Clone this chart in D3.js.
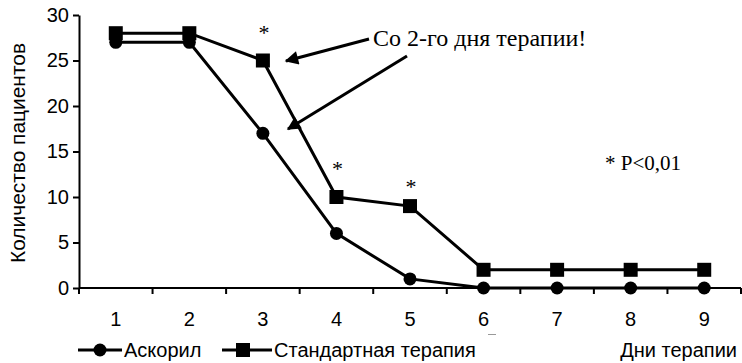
<!DOCTYPE html>
<html><head><meta charset="utf-8">
<script src="https://cdn.jsdelivr.net/npm/d3@7"></script>
<style>body{margin:0;background:#fff}svg{display:block}</style>
</head><body>
<svg id="c" width="742" height="363"></svg>
<script>
const days = ["1","2","3","4","5","6","7","8","9"];
const ascoril = [27,27,17,6,1,0,0,0,0];
const standard = [28,28,25,10,9,2,2,2,2];
const yTicks = [0,5,10,15,20,25,30];
const seriesNames = ["Аскорил","Стандартная терапия"];
const starDays = ["3","4","5"];

(function(){
const svg = d3.select("#c");
const mLeft = 79, mRight = 741, mTop = 15, mBottom = 288;
const sans = "Liberation Sans, Arial, sans-serif";
const serif = "Liberation Serif, Times New Roman, serif";
const x = d3.scaleBand().domain(days).range([mLeft, mRight]);
const y = d3.scaleLinear().domain([0,30]).range([mBottom, mTop]);
const cx = d => x(d) + x.bandwidth()/2;

const yAx = svg.append("g").attr("transform",`translate(${mLeft},0)`)
  .call(d3.axisLeft(y).tickValues(yTicks).tickSize(6).tickSizeOuter(0).tickPadding(4));
const xAx = svg.append("g").attr("transform",`translate(0,${mBottom})`)
  .call(d3.axisBottom(x).tickSize(0).tickPadding(24));
xAx.selectAll(".tick line").remove();
xAx.selectAll(".bt").data(d3.range(days.length+1)).enter().append("line")
  .attr("x1", i => mLeft + i*x.bandwidth()).attr("x2", i => mLeft + i*x.bandwidth())
  .attr("y1",0).attr("y2",6).attr("stroke","#000").attr("stroke-width",2);
[yAx,xAx].forEach(a=>{
  a.select(".domain").attr("stroke","#000").attr("stroke-width",2);
  a.selectAll(".tick line").attr("stroke","#000").attr("stroke-width",2);
  a.selectAll("text").attr("font-family",sans).attr("font-size",20).attr("fill","#000");
});
xAx.select(".domain").attr("d",`M${mLeft},0H${mRight}`);

svg.append("text").attr("transform","translate(25,153) rotate(-90)")
  .attr("text-anchor","middle").attr("font-family",sans)
  .attr("font-size",20).attr("textLength",220).attr("lengthAdjust","spacingAndGlyphs")
  .text("Количество пациентов");

const line = d3.line().x((d,i)=>cx(days[i])).y(d=>y(d));
svg.append("path").datum(ascoril).attr("d",line).attr("fill","none").attr("stroke","#000").attr("stroke-width",3);
svg.append("path").datum(standard).attr("d",line).attr("fill","none").attr("stroke","#000").attr("stroke-width",3);
svg.selectAll(".c").data(ascoril).enter().append("circle")
  .attr("cx",(d,i)=>cx(days[i])).attr("cy",d=>y(d)).attr("r",6.5).attr("fill","#000");
svg.selectAll(".s").data(standard).enter().append("rect")
  .attr("x",(d,i)=>cx(days[i])-7).attr("y",d=>y(d)-7).attr("width",14).attr("height",14).attr("fill","#000");

const starY = {"3":40,"4":176,"5":194};
starDays.forEach(d=>{
  svg.append("text").attr("x",cx(d)+1).attr("y",starY[d]).attr("text-anchor","middle")
    .attr("font-family",serif).attr("font-size",22).text("*");
});
svg.append("text").attr("x",605).attr("y",170).attr("font-family",serif)
  .attr("font-size",21).text("* P<0,01");

svg.append("defs").append("marker").attr("id","ah").attr("viewBox","0 0 10 10").attr("refX",9).attr("refY",5)
  .attr("markerWidth",5).attr("markerHeight",4.5).attr("orient","auto").attr("markerUnits","strokeWidth")
  .append("path").attr("d","M0,0L10,5L0,10Z").attr("fill","#000");
svg.append("text").attr("x",373).attr("y",46).attr("font-family",serif)
  .attr("font-size",24).text("Со 2-го дня терапии!");
svg.append("line").attr("x1",369).attr("y1",39).attr("x2",286).attr("y2",61)
  .attr("stroke","#000").attr("stroke-width",3).attr("marker-end","url(#ah)");
svg.append("line").attr("x1",407).attr("y1",56).attr("x2",288).attr("y2",129)
  .attr("stroke","#000").attr("stroke-width",3).attr("marker-end","url(#ah)");

svg.append("line").attr("x1",488).attr("x2",496).attr("y1",334.5).attr("y2",334.5)
  .attr("stroke","#999").attr("stroke-width",1);

const lg = svg.append("g").attr("font-family",sans).attr("font-size",20);
lg.append("line").attr("x1",78).attr("x2",122).attr("y1",350).attr("y2",350).attr("stroke","#000").attr("stroke-width",3);
lg.append("circle").attr("cx",100).attr("cy",350).attr("r",6.5);
lg.append("text").attr("x",124).attr("y",357).text(seriesNames[0]);
lg.append("line").attr("x1",222).attr("x2",272).attr("y1",350).attr("y2",350).attr("stroke","#000").attr("stroke-width",3);
lg.append("rect").attr("x",236).attr("y",343).attr("width",14).attr("height",14);
lg.append("text").attr("x",274).attr("y",357).text(seriesNames[1]);
lg.append("text").attr("x",737).attr("y",357).attr("text-anchor","end").text("Дни терапии");
})();
</script>
</body></html>
